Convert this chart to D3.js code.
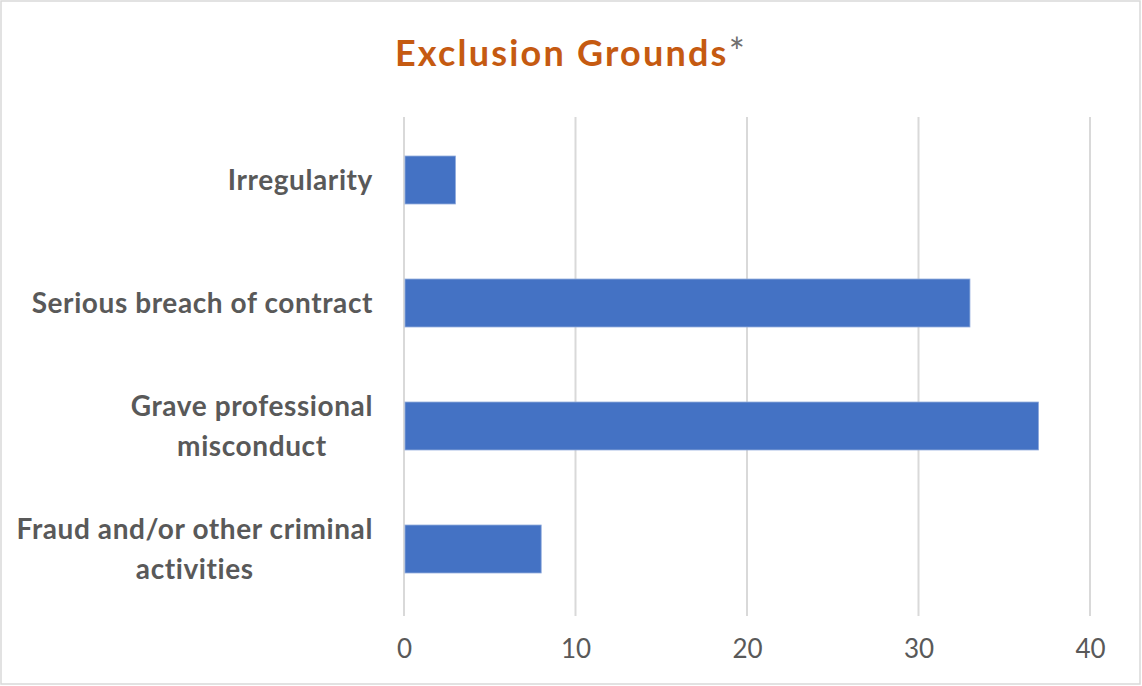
<!DOCTYPE html>
<html>
<head>
<meta charset="utf-8">
<script src="https://cdn.jsdelivr.net/npm/d3@7"></script>
<style>
  body { margin: 0; background: #fff; }
  svg { display: block; }
  text { font-family: Lato, "Open Sans", sans-serif; }
</style>
</head>
<body>
<div class="diagram"></div>
<script>
var width = 1142, height = 686;

// data
var categories = ["Irregularity", "Serious breach of contract", "Grave professional misconduct", "Fraud and/or other criminal activities"];
var labelLines = [["Irregularity"], ["Serious breach of contract"], ["Grave professional", "misconduct"], ["Fraud and/or other criminal", "activities"]];
var counts = [3, 33, 37, 8];
var xTicks = [0, 10, 20, 30, 40];

var data = categories.map(function(c, i) {
  return {name: c, lines: labelLines[i], value: counts[i]};
});

var svg = d3.select('.diagram')
  .append('svg')
  .attr('width', width)
  .attr('height', height);

// chart frame
svg.append('rect')
  .attr('x', 1).attr('y', 1)
  .attr('width', width - 3).attr('height', height - 3)
  .attr('fill', '#fff')
  .attr('stroke', '#d9d9d9')
  .attr('stroke-width', 1.5);

var x = d3.scaleLinear().domain([0, 40]).range([404, 1090]);
var y = d3.scaleBand()
  .domain(categories)
  .range([118.5, 610.5])
  .paddingInner(0.61)
  .paddingOuter(0.305);

// title
var title = svg.append('text')
  .attr('x', width / 2)
  .attr('y', 66)
  .attr('text-anchor', 'middle')
  .style('font-size', '36px')
  .style('letter-spacing', '2.2px');
title.append('tspan')
  .attr('fill', '#c55a11')
  .attr('font-weight', 'bold')
  .text('Exclusion Grounds');
title.append('tspan')
  .attr('fill', '#6f6f6f')
  .style('font-size', '38px')
  .text('*');

// gridlines
svg.append('g')
  .selectAll('line')
  .data(xTicks)
  .enter()
  .append('line')
  .attr('x1', function(d) { return x(d); })
  .attr('x2', function(d) { return x(d); })
  .attr('y1', 117)
  .attr('y2', 616)
  .attr('stroke', '#d9d9d9')
  .attr('stroke-width', 2);

// bars
svg.append('g')
  .selectAll('rect')
  .data(data)
  .enter()
  .append('rect')
  .attr('x', x(0) + 1)
  .attr('y', function(d) { return y(d.name); })
  .attr('width', function(d) { return x(d.value) - x(0) - 1; })
  .attr('height', y.bandwidth())
  .attr('fill', '#4472c4')
  .attr('stroke', '#8faadc')
  .attr('stroke-width', 0.8);

// x axis labels
var xAxis = svg.append('g')
  .attr('transform', 'translate(0,' + 616 + ')')
  .call(d3.axisBottom(x).tickValues(xTicks).tickSize(0).tickPadding(24));
xAxis.select('.domain').remove();
xAxis.selectAll('text')
  .attr('fill', '#595959')
  .style('font-family', 'Lato, "Open Sans", sans-serif')
  .style('font-size', '26px');

// category labels, wrapped lines centred on each other, block right aligned
var labelRight = 373, lineHeight = 40;
var labels = svg.append('g')
  .selectAll('text')
  .data(data)
  .enter()
  .append('text')
  .attr('fill', '#595959')
  .attr('font-weight', 'bold')
  .style('font-size', '28px')
  .style('letter-spacing', '0.6px')
  .attr('text-anchor', 'middle');

labels.each(function(d) {
  var t = d3.select(this);
  var cy = y(d.name) + y.bandwidth() / 2;
  var n = d.lines.length;
  d.lines.forEach(function(line, i) {
    t.append('tspan')
      .attr('y', cy + (i - (n - 1) / 2) * lineHeight)
      .attr('dy', '0.35em')
      .text(line);
  });
  var maxW = 0;
  t.selectAll('tspan').each(function() {
    maxW = Math.max(maxW, this.getComputedTextLength());
  });
  t.selectAll('tspan').attr('x', labelRight - maxW / 2);
});
</script>
</body>
</html>
